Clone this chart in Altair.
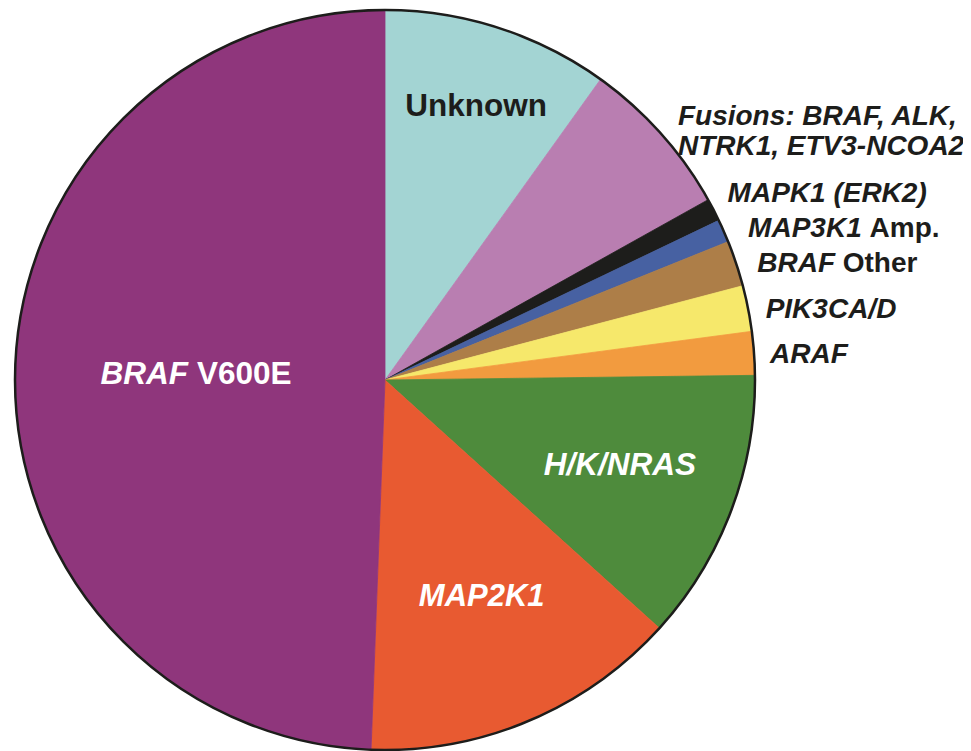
import math
import altair as alt
import pandas as pd

# ---- data (percent of cases) ----
categories = ["Unknown", "Fusions", "MAPK1 (ERK2)", "MAP3K1 Amp.", "BRAF Other",
              "PIK3CA/D", "ARAF", "H/K/NRAS", "MAP2K1", "BRAF V600E"]
values = [9.9, 7.0, 1.0, 1.0, 2.0, 2.0, 1.9, 11.9, 13.9, 49.4]
colors = ["#A3D4D3", "#B97EB1", "#1D1D1B", "#4761A2", "#AD7E48",
          "#F6E86B", "#F29B3F", "#4E8B3C", "#E85A31", "#8F367C"]

df = pd.DataFrame({"category": categories, "value": values,
                   "order": list(range(len(categories)))})

# mid-angle (radians, clockwise from 12 o'clock) of each slice
total = sum(values)
mids = {}
cum = 0.0
for c, v in zip(categories, values):
    mids[c] = 2 * math.pi * (cum + v / 2) / total
    cum += v

CX, CY, R = 377, 372, 370
DARK = "#1D1D1B"
FONT = "Liberation Sans"

pie = alt.Chart(df).mark_arc(radius=R, strokeWidth=0.8).encode(
    theta=alt.Theta("value:Q", stack=True),
    order=alt.Order("order:Q"),
    color=alt.Color("category:N", scale=alt.Scale(domain=categories, range=colors), legend=None),
    stroke=alt.Stroke("category:N", scale=alt.Scale(domain=categories, range=colors), legend=None),
    x=alt.value(CX), y=alt.value(CY),
)

outline = alt.Chart(pd.DataFrame({"k": [0]})).mark_arc(
    theta=0, theta2=2 * math.pi, radius=R, fillOpacity=0,
    stroke=DARK, strokeWidth=2.5,
).encode(x=alt.value(CX), y=alt.value(CY))

# label layout: (slice, text, italic, radius, align, dx, dy, size, color)
label_specs = [
    ("Unknown", "Unknown", False, 288, "center", 3, 1, 31.5, DARK),
    ("H/K/NRAS", "H/K/NRAS", True, 249, "center", 2, -2.5, 31.5, "white"),
    ("MAP2K1", "MAP2K1", True, 236, "center", 5, -0.5, 31, "white"),
    ("BRAF V600E", "BRAF", True, 189, "right", -8, -1.5, 31.5, "white"),
    ("BRAF V600E", "V600E", False, 189, "left", 1, -1.5, 31.5, "white"),
    ("Fusions", "Fusions: BRAF, ALK,\nNTRK1, ETV3-NCOA2", True, 388, "left", 3.5, -4.5, 28, DARK),
    ("MAPK1 (ERK2)", "MAPK1 (ERK2)", True, 388, "left", -2, -8, 28, DARK),
    ("MAP3K1 Amp.", "MAP3K1", True, 388, "left", 8, 5, 28, DARK),
    ("MAP3K1 Amp.", "Amp.", False, 388, "left", 129.5, 5, 28, DARK),
    ("BRAF Other", "BRAF", True, 388, "left", 4, 6, 28, DARK),
    ("BRAF Other", "Other", False, 388, "left", 89.5, 6, 28, DARK),
    ("PIK3CA/D", "PIK3CA/D", True, 388, "left", 0, 5, 28, DARK),
    ("ARAF", "ARAF", True, 388, "left", -2, 3, 28, DARK),
]

labels = []
for cat, txt, italic, rad, align, dx, dy, size, col in label_specs:
    ldf = pd.DataFrame({"text": [txt], "ang": [mids[cat]]})
    kw = dict(radius=rad, align=align, baseline="middle", dx=dx, dy=dy,
              fontSize=size, font=FONT, fontWeight="bold", color=col,
              lineBreak="\n", lineHeight=30)
    if italic:
        kw["fontStyle"] = "italic"
    labels.append(
        alt.Chart(ldf).mark_text(**kw).encode(
            theta=alt.Theta("ang:Q", scale=None, stack=False),
            text="text:N",
            x=alt.value(CX), y=alt.value(CY),
        )
    )

chart = alt.layer(pie, outline, *labels).properties(
    width=955, height=743, autosize="none", padding=0,
).configure_view(stroke=None)

chart.save("out.html", embed_options={"renderer": "svg", "actions": False})
